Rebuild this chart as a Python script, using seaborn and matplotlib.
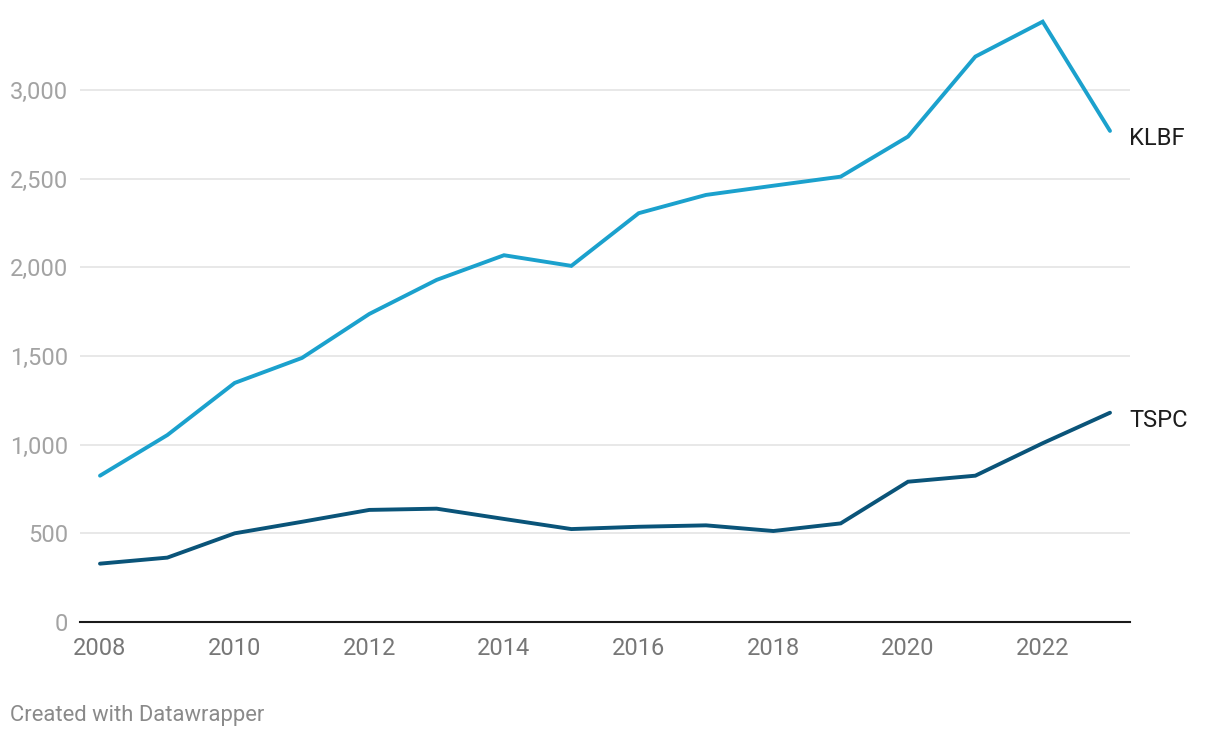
import pandas as pd
import matplotlib.pyplot as plt
import seaborn as sns
from matplotlib.ticker import FuncFormatter

# Data
years = list(range(2008, 2024))
klbf = [825, 1054, 1348, 1489, 1737, 1929, 2068, 2008, 2305, 2408, 2460, 2511, 2737, 3188, 3385, 2769]
tspc = [329, 363, 500, 565, 632, 639, 581, 524, 537, 545, 513, 556, 791, 825, 1008, 1180]
series_names = ['KLBF', 'TSPC']
series_colors = {'KLBF': '#1ba1cd', 'TSPC': '#0a5479'}
y_ticks = [0, 500, 1000, 1500, 2000, 2500, 3000]
x_ticks = [2008, 2010, 2012, 2014, 2016, 2018, 2020, 2022]

df = pd.DataFrame({
    'year': years * 2,
    'value': klbf + tspc,
    'series': ['KLBF'] * len(years) + ['TSPC'] * len(years),
})

sns.set_theme(style='white')
plt.rcParams['font.family'] = ['Roboto', 'DejaVu Sans']

fig = plt.figure(figsize=(12.2, 7.38), dpi=100)
fig.patch.set_facecolor('white')
ax = fig.add_axes([80 / 1220, 116 / 738, 1050 / 1220, 603 / 738])

sns.lineplot(data=df, x='year', y='value', hue='series', palette=series_colors,
             linewidth=2.8, legend=False, ax=ax)
for line in ax.lines:
    line.set_solid_capstyle('round')
    line.set_solid_joinstyle('miter')

ax.set_xlim(2008 - 0.297, 2023 + 0.297)
ax.set_ylim(0, 3400)

# gridlines
ax.set_yticks(y_ticks)
ax.yaxis.set_major_formatter(FuncFormatter(lambda v, p: f'{int(v):,}'))
ax.grid(True, axis='y', color='#e1e1e1', linewidth=1.1)
ax.grid(False, axis='x')
ax.set_axisbelow(True)
ax.set_xticks(x_ticks)

for side in ['top', 'right', 'left']:
    ax.spines[side].set_visible(False)
ax.spines['bottom'].set_color('#1a1a1a')
ax.spines['bottom'].set_linewidth(1.5)
ax.spines['bottom'].set_zorder(5)

ax.tick_params(axis='y', length=0, pad=8.5, labelsize=17, labelcolor='#a3a3a3')
ax.tick_params(axis='x', length=0, pad=11, labelsize=17, labelcolor='#777777')
ax.set_xlabel('')
ax.set_ylabel('')

# end labels
for name, vals in zip(series_names, [klbf, tspc]):
    ax.annotate(name, xy=(years[-1], vals[-1]), xytext=(14, -5.5),
                textcoords='offset points', fontsize=17, color='#1d1d1d',
                va='center', ha='left', annotation_clip=False)

fig.text(10 / 1220, 1 - 715 / 738, 'Created with Datawrapper', fontsize=15.8,
         color='#8a8a8a', va='center', ha='left')

fig.savefig('out.png', dpi=100, facecolor='white')
plt.close(fig)
